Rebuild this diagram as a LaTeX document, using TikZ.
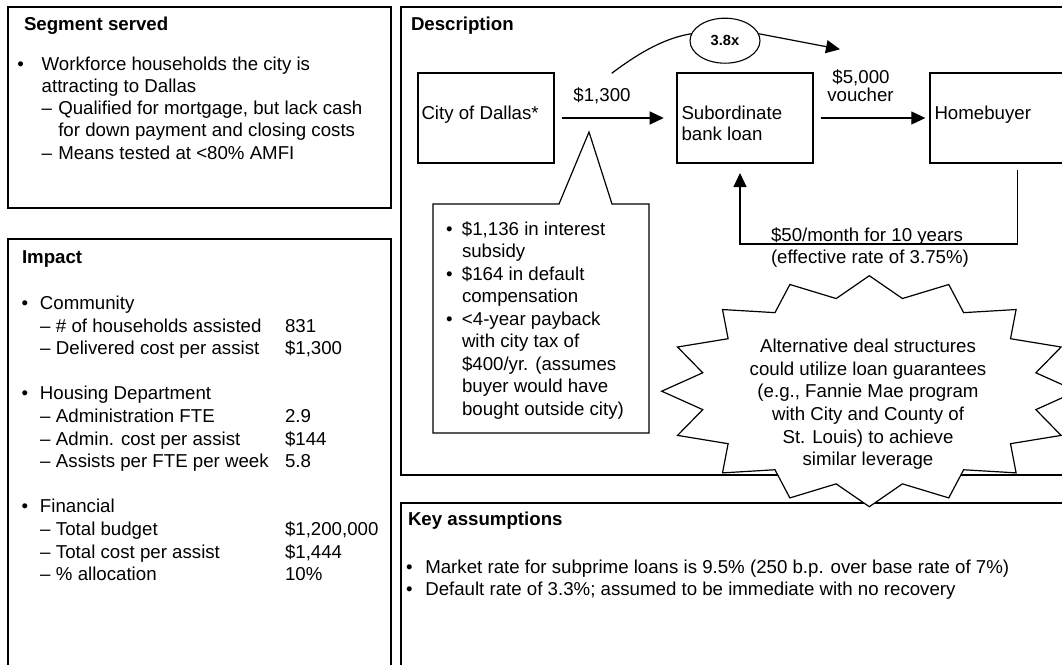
\documentclass[tikz,border=0pt]{standalone}
\usepackage{fontspec}
\setmainfont{Liberation Sans}
\usetikzlibrary{arrows.meta,shapes.geometric}

\begin{document}
\begin{tikzpicture}[x=1pt,y=-1pt,
  every node/.style={inner sep=0pt, outer sep=0pt, font=\fontsize{18.67}{22.5}\selectfont},
  panel/.style={draw=black, line width=2pt},
  heading/.style={anchor=base west, font=\fontsize{18.67}{22.5}\selectfont\bfseries},
  txt/.style={anchor=base west},
  ctr/.style={anchor=base},
  box/.style={draw=black, line width=1.1pt, minimum height=90pt},
  link/.style={draw=black, line width=1.2pt},
  arr/.style={draw=black, line width=1.2pt, -{Triangle[length=14pt,width=13pt]}},
]
\useasboundingbox (0,0) rectangle (1062,664);
\fill[white] (0,0) rectangle (1062,664);
\clip (0,0) rectangle (1062,664);

% ---------- panel frames ----------
\draw[panel] (8.3,6.5) rectangle (391,208.3);
\draw[panel] (8.3,239.3) rectangle (391,720);
\draw[panel] (400.7,6.5) rectangle (1120,475);
\draw[panel] (400.7,502.7) rectangle (1120,720);

% ---------- Segment served ----------
\node[heading] (segT) at (24,30.5) {Segment served};
\node[txt] (seg1) at (17.4,70) {\makebox[24.3pt][l]{•}Workforce households the city is};
\node[txt] (seg2) at (41.7,92.5) {attracting to Dallas};
\node[txt] (seg3) at (41.7,114.8) {\makebox[16.6pt][l]{–}Qualified for mortgage, but lack cash};
\node[txt] (seg4) at (58.3,136.8) {for down payment and closing costs};
\node[txt] (seg5) at (41.7,159) {\makebox[16.6pt][l]{–}Means tested at <80\% AMFI};

% ---------- Impact ----------
\node[heading] (impT) at (22,263.3) {Impact};
\node[txt] (imp1) at (21.7,309.5) {\makebox[18.3pt][l]{•}Community};
\node[txt] (imp2) at (40,332.1) {\makebox[16pt][l]{–}\# of households assisted};
\node[txt] (imp3) at (40,354.7) {\makebox[16pt][l]{–}Delivered cost per assist};
\node[txt] (imp4) at (21.7,399.9) {\makebox[18.3pt][l]{•}Housing Department};
\node[txt] (imp5) at (40,422.5) {\makebox[16pt][l]{–}Administration FTE};
\node[txt] (imp6) at (40,445.1) {\makebox[16pt][l]{–}Admin. cost per assist};
\node[txt] (imp7) at (40,467.7) {\makebox[16pt][l]{–}Assists per FTE per week};
\node[txt] (imp8) at (21.7,512.9) {\makebox[18.3pt][l]{•}Financial};
\node[txt] (imp9) at (40,535.5) {\makebox[16pt][l]{–}Total budget};
\node[txt] (imp10) at (40,558.1) {\makebox[16pt][l]{–}Total cost per assist};
\node[txt] (imp11) at (40,580.7) {\makebox[16pt][l]{–}\% allocation};
\node[txt] (val2) at (285,332.1) {831};
\node[txt] (val3) at (285,354.7) {\$1,300};
\node[txt] (val5) at (285,422.5) {2.9};
\node[txt] (val6) at (285,445.1) {\$144};
\node[txt] (val7) at (285,467.7) {5.8};
\node[txt] (val9) at (285,535.5) {\$1,200,000};
\node[txt] (val10) at (285,558.1) {\$1,444};
\node[txt] (val11) at (285,580.7) {10\%};

% ---------- Description ----------
\node[heading] (desT) at (411,30) {Description};

\node[box, minimum width=136pt] (city) at (486,118) {};
\node[box, minimum width=136pt] (sub) at (745,118) {};
\node[box, minimum width=175.4pt] (home) at (1017.7,118) {};
\node[txt] (cityL) at (421.5,119.3) {City of Dallas*};
\node[txt] (subL1) at (681.5,119.3) {Subordinate};
\node[txt] (subL2) at (681.5,140.5) {bank loan};
\node[txt] (homeL) at (934.5,119.3) {Homebuyer};

\draw[arr, shorten <=7.6pt, shorten >=13.3pt] (city.east) -- (sub.west);
\draw[arr, shorten <=7.7pt, shorten >=4.7pt] (sub.east) -- (home.west);
\node[ctr] (amt1) at (602,101.5) {\$1,300};
\node[ctr] (amt2) at (861,83) {\$5,000};
\node[ctr] (amt3) at (860.5,101.5) {voucher};

% leverage marker
\node[draw=black, ellipse, line width=1.1pt, minimum width=70pt, minimum height=45pt,
      font=\fontsize{14.67}{16}\selectfont\bfseries] (mult) at (725,40.7) {3.8x};
\coordinate (cstart) at (611.7,73.3);
\coordinate (mtip) at (840,49.3);
\draw[link] (cstart) .. controls (640,52) and (665,38) .. (mult.168);
\draw[arr] (mult.12) -- (mtip);

% repayment loop
\coordinate (rturn) at (1017.7,244);
\draw[arr, shorten <=7pt, shorten >=10pt] (home.south) -- (rturn) -| ([xshift=-5pt]sub.south);
\node[txt] (pay1) at (771,241.7) {\$50/month for 10 years};
\node[txt] (pay2) at (771,263.3) {(effective rate of 3.75\%)};

% callout with subsidy breakdown
\draw[link, fill=white] (433,204) -- (559,204) -- (589,132) -- (612,204) -- (649,204)
  -- (649,433) -- (433,433) -- cycle;
\node[txt] (co1) at (446,235) {\makebox[16pt][l]{•}\$1,136 in interest};
\node[txt] (co2) at (462,257.5) {subsidy};
\node[txt] (co3) at (446,280) {\makebox[16pt][l]{•}\$164 in default};
\node[txt] (co4) at (462,302.5) {compensation};
\node[txt] (co5) at (446,325) {\makebox[16pt][l]{•}<4-year payback};
\node[txt] (co6) at (462,347.5) {with city tax of};
\node[txt] (co7) at (462,370) {\$400/yr. (assumes};
\node[txt] (co8) at (462,392.5) {buyer would have};
\node[txt] (co9) at (462,415) {bought outside city)};

% ---------- Key assumptions ----------
\node[heading] (keyT) at (408,525.7) {Key assumptions};
\node[txt] (key1) at (406.2,573.3) {\makebox[19.1pt][l]{•}Market rate for subprime loans is 9.5\% (250 b.p. over base rate of 7\%)};
\node[txt] (key2) at (406.2,595) {\makebox[19.1pt][l]{•}Default rate of 3.3\%; assumed to be immediate with no recovery};

% ---------- starburst note ----------
\draw[link, fill=white] plot[samples=32, domain=0:31, variable=\k]
  ({869.3+207.6*(0.909+0.091*cos(180*\k))*cos(90+11.25*\k)},
   {391.2-115.5*(0.909+0.091*cos(180*\k))*sin(90+11.25*\k)}) -- cycle;
\node[ctr] (bu1) at (868,352.7) {Alternative deal structures};
\node[ctr] (bu2) at (868,375.3) {could utilize loan guarantees};
\node[ctr] (bu3) at (868,397.9) {(e.g., Fannie Mae program};
\node[ctr] (bu4) at (868,420.5) {with City and County of};
\node[ctr] (bu5) at (868,443.1) {St. Louis) to achieve};
\node[ctr] (bu6) at (868,465.7) {similar leverage};
\end{tikzpicture}
\end{document}
